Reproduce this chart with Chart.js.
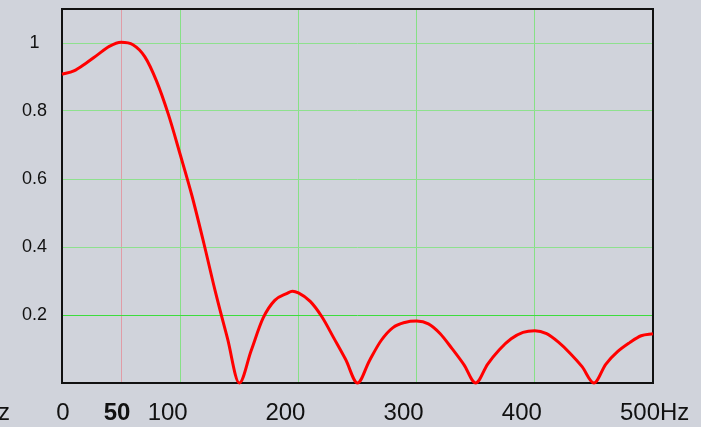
<!DOCTYPE html>
<html>
<head>
<meta charset="utf-8">
<script src="https://cdn.jsdelivr.net/npm/chart.js@4/dist/chart.umd.min.js"></script>
<style>
  html, body { margin: 0; padding: 0; background: #d0d3db; }
  #wrap { width: 701px; height: 427px; position: relative; }
</style>
</head>
<body>
<div id="wrap"><canvas id="c" width="701" height="427"></canvas></div>
<script>
// ---- data ----
const freqHz = [0, 10, 20, 30, 40, 50, 60, 70, 80, 90, 100, 110, 120, 130, 140, 150,
  160, 170, 180, 190, 195, 200, 210, 220, 230, 240, 250,
  260, 270, 280, 290, 300, 310, 320, 330, 340, 350,
  360, 370, 380, 390, 400, 410, 420, 430, 440, 450,
  460, 470, 480, 490, 500];
const magnitude = [0.908, 0.918, 0.940, 0.965, 0.990, 1.002, 0.995, 0.960, 0.888, 0.790, 0.672, 0.550, 0.411, 0.265, 0.131, 0.0,
  0.095, 0.190, 0.243, 0.263, 0.270, 0.265, 0.240, 0.194, 0.132, 0.069, 0.0,
  0.065, 0.125, 0.163, 0.178, 0.182, 0.174, 0.145, 0.101, 0.054, 0.0,
  0.055, 0.098, 0.130, 0.149, 0.154, 0.145, 0.120, 0.087, 0.048, 0.0,
  0.055, 0.092, 0.118, 0.139, 0.145];
const xTickValues = [0, 50, 100, 200, 300, 400, 500];
const xTickLabels = ['0', '50', '100', '200', '300', '400', '500Hz'];
const yTickValues = [0.2, 0.4, 0.6, 0.8, 1];
const yTickLabels = ['0.2', '0.4', '0.6', '0.8', '1'];

const points = freqHz.map((f, i) => ({ x: f, y: magnitude[i] }));

// label x-offsets relative to tick (style)
const xLabelShift = [1, -4, -12.5, -13, -13, -13, -13];

const bgPlugin = {
  id: 'bg',
  beforeDraw(chart) {
    const ctx = chart.ctx;
    ctx.save();
    ctx.fillStyle = '#d0d3db';
    ctx.fillRect(0, 0, chart.width, chart.height);
    ctx.restore();
  },
  beforeDatasetsDraw(chart) {
    const { ctx, chartArea: a } = chart;
    ctx.save();
    ctx.strokeStyle = '#111';
    ctx.lineWidth = 2;
    ctx.strokeRect(a.left, a.top, a.right - a.left, a.bottom - a.top);
    ctx.restore();
  },
  afterDraw(chart) {
    const ctx = chart.ctx;
    const xs = chart.scales.x;
    ctx.save();
    ctx.fillStyle = '#111';
    ctx.textBaseline = 'alphabetic';
    const baseY = 419.5;
    xTickValues.forEach((v, i) => {
      const px = xs.getPixelForValue(v) + xLabelShift[i];
      const bold = v === 50;
      ctx.font = (bold ? 'bold ' : '') + '24px "Liberation Sans", Arial, sans-serif';
      const label = xTickLabels[i];
      if (label.endsWith('Hz')) {
        const num = label.slice(0, -2);
        const w = ctx.measureText(num).width;
        ctx.textAlign = 'left';
        ctx.fillText(label, px - w / 2, baseY);
      } else {
        ctx.textAlign = 'center';
        ctx.fillText(label, px, baseY);
      }
    });
    // partially visible unit label at the far left
    ctx.font = '24px "Liberation Sans", Arial, sans-serif';
    ctx.textAlign = 'right';
    ctx.fillText('Hz', 10, baseY);
    ctx.restore();
  }
};

new Chart(document.getElementById('c'), {
  type: 'line',
  data: {
    datasets: [{
      data: points,
      borderColor: '#ff0000',
      borderWidth: 3,
      pointRadius: 0,
      fill: false,
      cubicInterpolationMode: 'monotone',
      clip: 4
    }]
  },
  options: {
    responsive: false,
    animation: false,
    devicePixelRatio: 1,
    layout: { autoPadding: false, padding: { top: 9, right: 48, left: 0, bottom: 0 } },
    plugins: { legend: { display: false }, tooltip: { enabled: false } },
    scales: {
      x: {
        type: 'linear',
        min: 0, max: 500,
        afterBuildTicks: s => { s.ticks = xTickValues.map(v => ({ value: v })); },
        afterFit: s => { s.height = 44; s.paddingLeft = 0; s.paddingRight = 0; },
        ticks: { display: false },
        grid: {
          drawTicks: false,
          lineWidth: 1,
          color: ctx => {
            const v = ctx.tick ? ctx.tick.value : null;
            if (v === 50) return 'rgba(225,150,160,0.9)';
            if (v === 0 || v === 500) return 'rgba(0,0,0,0)';
            return '#86e086';
          }
        },
        border: { display: false }
      },
      y: {
        type: 'linear',
        min: 0, max: 1.1,
        afterBuildTicks: s => { s.ticks = yTickValues.map(v => ({ value: v })); },
        afterFit: s => { s.width = 62; s.paddingTop = 0; s.paddingBottom = 0; },
        ticks: {
          crossAlign: 'center',
          padding: 15,
          color: '#111',
          font: { size: 18, family: '"Liberation Sans", Arial, sans-serif' },
          callback: (v) => {
            const i = yTickValues.findIndex(t => Math.abs(t - v) < 1e-9);
            return i >= 0 ? yTickLabels[i] : '';
          }
        },
        grid: {
          drawTicks: false,
          lineWidth: 1,
          color: ctx => {
            const v = ctx.tick ? ctx.tick.value : null;
            if (v !== null && Math.abs(v - 0.2) < 1e-9) return '#3ddc3d';
            return '#8ee08e';
          }
        },
        border: { display: false }
      }
    }
  },
  plugins: [bgPlugin]
});
</script>
</body>
</html>
